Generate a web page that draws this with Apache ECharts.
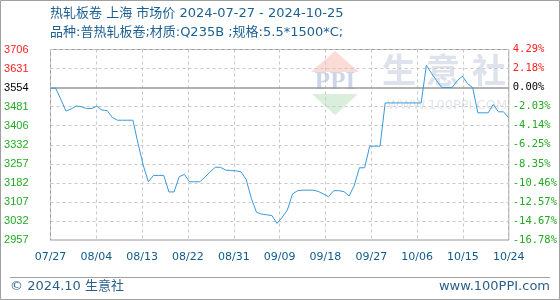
<!DOCTYPE html>
<html>
<head>
<meta charset="utf-8">
<script src="https://cdn.jsdelivr.net/npm/echarts@6/dist/echarts.min.js"></script>
<style>
html,body{margin:0;padding:0;background:#fff;}
#c{width:560px;height:300px;}
</style>
</head>
<body>
<div id="c"></div>
<script>
// ---- data ----
var startDate = '2024-07-27';
var prices = [
  3554, 3554, 3510, 3464, 3472, 3484, 3481, 3474, 3474, 3483,
  3468, 3466, 3439, 3428, 3428, 3428, 3428, 3337, 3252, 3186,
  3211, 3211, 3211, 3146, 3146, 3206, 3215, 3186, 3186, 3186,
  3204, 3225, 3243, 3243, 3232, 3230, 3229, 3225, 3195, 3121,
  3066, 3059, 3056, 3053, 3022, 3046, 3075, 3138, 3151, 3153,
  3153, 3153, 3148, 3138, 3127, 3151, 3151, 3147, 3130, 3172,
  3241, 3241, 3326, 3326, 3326, 3496, 3496, 3496, 3496, 3496,
  3496, 3496, 3496, 3644, 3612, 3583, 3557, 3557, 3557, 3583,
  3601, 3572, 3556, 3457, 3457, 3457, 3490, 3461, 3461, 3437
];
var basePrice = 3554;
var xTickLabels = ['07/27','08/04','08/13','08/22','08/31','09/09','09/18','09/27','10/06','10/15','10/24'];
var priceTickLabels = ['2957','3032','3107','3182','3257','3332','3406','3481','3554','3631','3706'];
var pctTickLabels = ['-16.78%','-14.67%','-12.57%','-10.46%','-8.35%','-6.25%','-4.14%','-2.03%','0.00%','2.18%','4.29%'];
var titleText = '热轧板卷 上海 市场价 2024-07-27 - 2024-10-25';
var subtitleText = '品种:普热轧板卷;材质:Q235B ;规格:5.5*1500*C;';
var footerLeft = '© 2024.10 生意社';
var footerRight = 'www.100PPI.com';

// ---- build ----
var yMin = 2957, yMax = 3706, yInt = (yMax - yMin) / 10;
var xMax = prices.length - 1, xInt = xMax / 10;
var seriesData = prices.map(function (v, i) { return [i, v]; });
var baseIdx = 8;
function yIdx(v) { return Math.round((Number(v) - yMin) / yInt); }
function yColor(v) {
  var i = yIdx(v);
  return i > baseIdx ? '#ff2020' : (i === baseIdx ? '#000000' : '#22aa22');
}
var gridColors = [];
for (var k = 0; k <= 10; k++) gridColors.push(k === baseIdx ? 'rgba(0,0,0,0)' : '#c8c8c8');

var latin = '"DejaVu Sans","Noto Sans CJK SC",sans-serif';
var chart = echarts.init(document.getElementById('c'), null, {renderer: 'canvas'});
chart.setOption({
  animation: false,
  backgroundColor: '#ffffff',
  grid: {left: 50.5, right: 49, top: 49.5, bottom: 60, show: true, borderColor: '#999999', borderWidth: 1, backgroundColor: 'transparent'},
  xAxis: {
    type: 'value', min: 0, max: xMax, interval: xInt,
    axisLine: {show: false}, axisTick: {show: false},
    axisLabel: {
      margin: 12, color: '#0f5a8a', fontSize: 11, fontFamily: latin,
      formatter: function (v) { return xTickLabels[Math.round(v / xInt)] || ''; }
    },
    splitLine: {show: true, lineStyle: {color: '#c8c8c8', type: [3, 3], width: 1}}
  },
  yAxis: [{
    type: 'value', min: yMin, max: yMax, interval: yInt,
    axisLine: {show: false}, axisTick: {show: false},
    axisLabel: {
      margin: 22, fontSize: 11, fontFamily: '"Liberation Sans",sans-serif',
      color: function (v) { return yColor(v); },
      formatter: function (v) { return priceTickLabels[yIdx(v)] || ''; }
    },
    splitLine: {show: true, lineStyle: {color: gridColors, type: [3, 3], width: 1}}
  }, {
    type: 'value', min: yMin, max: yMax, interval: yInt, position: 'right',
    axisLine: {show: false}, axisTick: {show: false},
    axisLabel: {
      margin: 4, fontSize: 10.5, fontFamily: '"DejaVu Sans Mono",monospace',
      color: function (v) { return yColor(v); },
      formatter: function (v) { return pctTickLabels[yIdx(v)] || ''; }
    },
    splitLine: {show: false}
  }],
  graphic: [
    {type: 'text', left: 50, top: 7, style: {text: titleText, font: '13px ' + latin, fill: '#1d5f92'}},
    {type: 'text', left: 50, top: 26, style: {text: subtitleText, font: '13px ' + latin, fill: '#1d5f92'}},
    {type: 'line', shape: {x1: 10, y1: 277.5, x2: 550, y2: 277.5}, style: {stroke: '#a0a0a0', lineWidth: 1}},
    {type: 'text', left: 10, top: 280, style: {text: footerLeft, font: '13px ' + latin, fill: '#2a5f8c'}},
    {type: 'text', right: 10, top: 280, style: {text: footerRight, font: '13px ' + latin, fill: '#2a5f8c'}},
    {type: 'rect', shape: {x: 0.5, y: 0.5, width: 559, height: 299}, style: {fill: 'none', stroke: '#a0a0a0', lineWidth: 1}},
    // watermark
    {type: 'polygon', z: -1, shape: {points: [[311, 72], [335, 51], [359, 72]]}, style: {fill: '#fadbd5'}},
    {type: 'text', z: -1, x: 335, y: 83, style: {text: 'PPI', font: 'bold 25px "Liberation Serif",serif', fill: '#cdd6e8', textAlign: 'center', textVerticalAlign: 'middle'}},
    {type: 'polygon', z: -1, shape: {points: [[312, 94], [358, 94], [335, 115]]}, style: {fill: '#d9efdc'}},
    {type: 'text', z: -1, x: 399, y: 70, style: {text: '生', font: 'bold 34px "Noto Sans CJK SC",sans-serif', fill: '#dde2ec', textAlign: 'center', textVerticalAlign: 'middle'}},
    {type: 'text', z: -1, x: 443, y: 70, style: {text: '意', font: 'bold 34px "Noto Sans CJK SC",sans-serif', fill: '#dde2ec', textAlign: 'center', textVerticalAlign: 'middle'}},
    {type: 'text', z: -1, x: 489, y: 70, style: {text: '社', font: 'bold 34px "Noto Sans CJK SC",sans-serif', fill: '#dde2ec', textAlign: 'center', textVerticalAlign: 'middle'}},
    {type: 'text', z: -1, x: 447, y: 106, style: {text: 'WWW.100PPI.COM', font: '13px "DejaVu Sans",sans-serif', fill: '#e2e5ea', textAlign: 'center', textVerticalAlign: 'middle'}}
  ],
  series: [{
    type: 'line', data: seriesData, showSymbol: false, symbol: 'none',
    lineStyle: {color: '#3a98d8', width: 1}, z: 5,
    markLine: {
      silent: true, symbol: 'none', label: {show: false},
      lineStyle: {color: '#999999', type: 'solid', width: 1.5},
      data: [{yAxis: basePrice}]
    }
  }]
});
</script>
</body>
</html>
